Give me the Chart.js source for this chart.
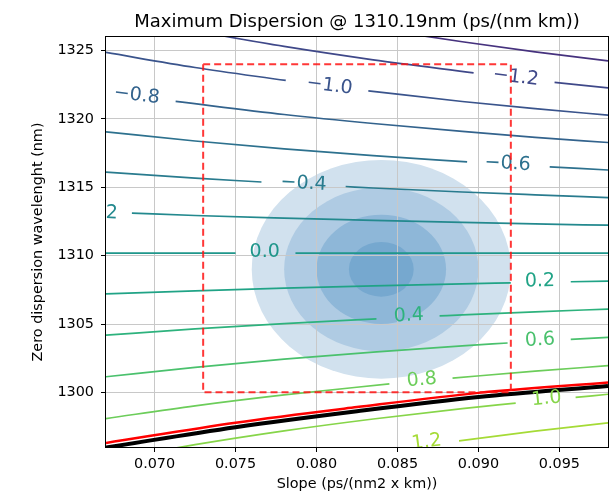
<!DOCTYPE html>
<html>
<head>
<meta charset="utf-8">
<script src="https://cdn.jsdelivr.net/npm/chart.js@4.4.0/dist/chart.umd.min.js"></script>
<style>
  html, body { margin: 0; padding: 0; background: #fff; }
  canvas { display: block; }
</style>
</head>
<body>
<canvas id="chart" width="610" height="494"></canvas>
<script>
// ticks
const slopeTicks = [0.070, 0.075, 0.080, 0.085, 0.090, 0.095];
const wavelengthTicks = [1300, 1305, 1310, 1315, 1320, 1325];

// contour lines: [slope, zero dispersion wavelength], null = gap where the label sits
const levelM14 = [[0.0835, 1326.64], [0.089, 1325.65], [0.0935, 1324.91], [0.098, 1324.25]];
const levelM12 = [[0.0725, 1326.44], [0.078, 1325.31], [0.0835, 1324.33], [0.0897, 1323.38], null, [0.0947, 1322.68], [0.098, 1322.27]];
const levelM10 = [[0.067, 1324.87], [0.0725, 1323.77], [0.0781, 1322.82], null, [0.0832, 1322.06], [0.089, 1321.28], [0.0935, 1320.76], [0.098, 1320.28]];
const levelM08 = [[0.0713, 1321.29], [0.078, 1320.33], [0.0835, 1319.67], [0.089, 1319.09], [0.0935, 1318.66], [0.098, 1318.28]];
const levelM06 = [[0.067, 1319.06], [0.0725, 1318.39], [0.078, 1317.82], [0.0835, 1317.32], [0.0893, 1316.86], null, [0.0944, 1316.50], [0.098, 1316.27]];
const levelM04 = [[0.067, 1316.12], [0.0725, 1315.67], [0.0766, 1315.39], null, [0.0818, 1315.06], [0.0835, 1314.95], [0.089, 1314.66], [0.0935, 1314.45], [0.098, 1314.25]];
const levelM02 = [[0.0686, 1313.11], [0.0725, 1312.94], [0.078, 1312.75], [0.0835, 1312.58], [0.089, 1312.43], [0.0935, 1312.32], [0.098, 1312.23]];
const level00 = [[0.067, 1310.19], [0.0750, 1310.19], null, [0.0787, 1310.19], [0.098, 1310.19]];
const level02 = [[0.067, 1307.20], [0.0725, 1307.42], [0.078, 1307.62], [0.0835, 1307.79], [0.089, 1307.94], [0.092, 1308.01], null, [0.0957, 1308.09], [0.098, 1308.14]];
const level04 = [[0.067, 1304.18], [0.0725, 1304.64], [0.078, 1305.03], [0.0837, 1305.38], null, [0.0876, 1305.59], [0.089, 1305.67], [0.0935, 1305.89], [0.098, 1306.09]];
const level06 = [[0.067, 1301.14], [0.0725, 1301.83], [0.078, 1302.43], [0.0835, 1302.94], [0.089, 1303.40], [0.0918, 1303.61], null, [0.0957, 1303.87], [0.098, 1304.02]];
const level08 = [[0.067, 1298.08], [0.0725, 1299.01], [0.078, 1299.81], [0.0845, 1300.62], null, [0.0884, 1301.04], [0.0935, 1301.55], [0.098, 1301.95]];
const level10 = [[0.067, 1295.00], [0.0725, 1296.17], [0.078, 1297.18], [0.0835, 1298.05], [0.089, 1298.81], [0.0923, 1299.21], null, [0.096, 1299.63], [0.098, 1299.86]];
const level12 = [[0.0888, 1296.45], [0.0935, 1297.16], [0.098, 1297.77]];

const contourLines = [levelM14, levelM12, levelM10, levelM08, levelM06, levelM04, levelM02,
  level00, level02, level04, level06, level08, level10, level12];
const levelLabels = ['−1.4', '−1.2', '−1.0', '−0.8', '−0.6', '−0.4', '−0.2',
  '0.0', '0.2', '0.4', '0.6', '0.8', '1.0', '1.2'];
const levelColors = ['#46327e', '#3f4889', '#3a548c', '#33638d', '#2d718e', '#297b8e', '#23898e',
  '#1f968b', '#20a386', '#2db27d', '#4ac16d', '#6ccd5a', '#86d549', '#a5db36'];
// where the inline labels sit
const labelPos = [null, [0.0923, 1323.05], [0.0808, 1322.42], [0.0689, 1321.72], [0.0918, 1316.72],
  [0.0792, 1315.27], [0.0663, 1313.15], [0.0768, 1310.25], [0.0938, 1308.12], [0.0857, 1305.6],
  [0.0938, 1303.82], [0.0865, 1300.9], [0.0942, 1299.52], [0.0868, 1296.35]];

// spec window
const boxSlope = [0.073, 0.092, 0.092, 0.073, 0.073];
const boxWl = [1324, 1324, 1300, 1300, 1324];
// limit curves
const redSlope = [0.067, 0.075, 0.0825, 0.090, 0.098];
const redWl = [1296.30, 1297.78, 1298.92, 1299.96, 1300.72];
const blackSlope = [0.067, 0.075, 0.0825, 0.090, 0.098];
const blackWl = [1295.96, 1297.45, 1298.62, 1299.66, 1300.46];

// distribution blob (filled contours)
const blobCenter = [0.084, 1309.0];
const blobRx = [0.008, 0.006, 0.004, 0.002];
const blobRy = [8, 6, 4, 2];
const blobColors = ['#d1e1ee', '#afcbe3', '#8eb7d8', '#76a8cf'];

Chart.defaults.font.family = '"DejaVu Sans"';
Chart.defaults.color = '#000';

function toPoints(list) {
  let lastX = 0;
  return list.map(p => {
    if (!p) return { x: lastX, y: null };
    lastX = p[0];
    return { x: p[0], y: p[1] };
  });
}

const datasets = [
  {
    data: boxSlope.map((s, i) => ({ x: s, y: boxWl[i] })),
    borderColor: 'rgba(255,20,20,0.85)', borderWidth: 2, borderDash: [7, 4], tension: 0
  },
  {
    data: redSlope.map((s, i) => ({ x: s, y: redWl[i] })),
    borderColor: '#ff0000', borderWidth: 2.5, cubicInterpolationMode: 'monotone'
  },
  {
    data: blackSlope.map((s, i) => ({ x: s, y: blackWl[i] })),
    borderColor: '#000000', borderWidth: 4, cubicInterpolationMode: 'monotone'
  }
];
contourLines.forEach((line, i) => {
  datasets.push({
    data: toPoints(line),
    borderColor: levelColors[i],
    borderWidth: 1.7,
    cubicInterpolationMode: 'monotone',
    spanGaps: false
  });
});

const blobPlugin = {
  id: 'blobs',
  beforeDraw(chart) {
    const { ctx, chartArea: a, scales: { x, y } } = chart;
    const cx = x.getPixelForValue(blobCenter[0]);
    const cy = y.getPixelForValue(blobCenter[1]);
    ctx.save();
    ctx.beginPath();
    ctx.rect(a.left, a.top, a.width, a.height);
    ctx.clip();
    blobRx.forEach((r, i) => {
      const rx = x.getPixelForValue(blobCenter[0] + r) - cx;
      const ry = cy - y.getPixelForValue(blobCenter[1] + blobRy[i]);
      ctx.fillStyle = blobColors[i];
      ctx.beginPath();
      ctx.ellipse(cx, cy, rx, ry, 0, 0, Math.PI * 2);
      ctx.fill();
    });
    ctx.restore();
  }
};

const labelPlugin = {
  id: 'clabels',
  beforeDatasetDraw(chart, args) {
    if (args.index !== 0) return;
    const { ctx, chartArea: a, scales: { x, y } } = chart;
    ctx.save();
    ctx.beginPath();
    ctx.rect(a.left, a.top, a.width, a.height);
    ctx.clip();
    ctx.font = '19px "DejaVu Sans"';
    ctx.textAlign = 'center';
    ctx.textBaseline = 'middle';
    labelPos.forEach((p, i) => {
      if (!p) return;
      const pts = chart.getDatasetMeta(i + 3).data.filter(e => !e.skip);
      const px = x.getPixelForValue(p[0]);
      const py = y.getPixelForValue(p[1]);
      let k = pts.findIndex(e => e.x > px);
      if (k === -1) k = pts.length - 1;
      if (k < 1) k = 1;
      const ang = Math.atan2(pts[k].y - pts[k - 1].y, pts[k].x - pts[k - 1].x);
      ctx.save();
      ctx.translate(px, py);
      ctx.rotate(ang);
      ctx.fillStyle = levelColors[i];
      ctx.fillText(levelLabels[i], 0, 0);
      ctx.restore();
    });
    ctx.restore();
  }
};

const framePlugin = {
  id: 'frame',
  afterDraw(chart) {
    const { ctx, chartArea: a } = chart;
    ctx.save();
    ctx.strokeStyle = '#000';
    ctx.lineWidth = 1;
    ctx.strokeRect(a.left - 0.5, a.top - 0.5, a.width + 1, a.height + 1);
    ctx.fillStyle = '#000';
    ctx.textAlign = 'center';
    ctx.textBaseline = 'middle';
    const midX = (a.left + a.right) / 2;
    ctx.font = '18px "DejaVu Sans"';
    ctx.fillText('Maximum Dispersion @ 1310.19nm (ps/(nm km))', midX, 22);
    ctx.font = '14.4px "DejaVu Sans"';
    ctx.fillText('Slope (ps/(nm2 x km))', midX, 484);
    ctx.translate(38.5, (a.top + a.bottom) / 2);
    ctx.rotate(-Math.PI / 2);
    ctx.fillText('Zero dispersion wavelenght (nm)', 0, 0);
    ctx.restore();
  }
};

new Chart(document.getElementById('chart'), {
  type: 'line',
  data: { datasets },
  options: {
    responsive: false,
    animation: false,
    devicePixelRatio: 1,
    layout: { padding: { top: 37, right: 2, left: 0, bottom: 0 } },
    elements: { point: { radius: 0 } },
    plugins: { legend: { display: false }, tooltip: { enabled: false } },
    scales: {
      x: {
        type: 'linear',
        min: 0.067,
        max: 0.098,
        afterBuildTicks: s => { s.ticks = slopeTicks.map(v => ({ value: v })); },
        afterFit: s => { s.height = 47; s.paddingLeft = 0; s.paddingRight = 0; },
        grid: { color: '#c8c8c8', lineWidth: 1, tickLength: 5, tickColor: '#000' },
        border: { display: false },
        ticks: { font: { size: 14.4 }, padding: 4, maxRotation: 0, callback: v => v.toFixed(3) }
      },
      y: {
        type: 'linear',
        min: 1296,
        max: 1326,
        afterBuildTicks: s => { s.ticks = wavelengthTicks.map(v => ({ value: v })); },
        afterFit: s => { s.width = 106; s.paddingTop = 0; s.paddingBottom = 0; },
        grid: { color: '#c8c8c8', lineWidth: 1, tickLength: 5, tickColor: '#000' },
        border: { display: false },
        ticks: { font: { size: 14.4 }, padding: 7, callback: v => String(v) }
      }
    }
  },
  plugins: [blobPlugin, labelPlugin, framePlugin]
});
</script>
</body>
</html>
